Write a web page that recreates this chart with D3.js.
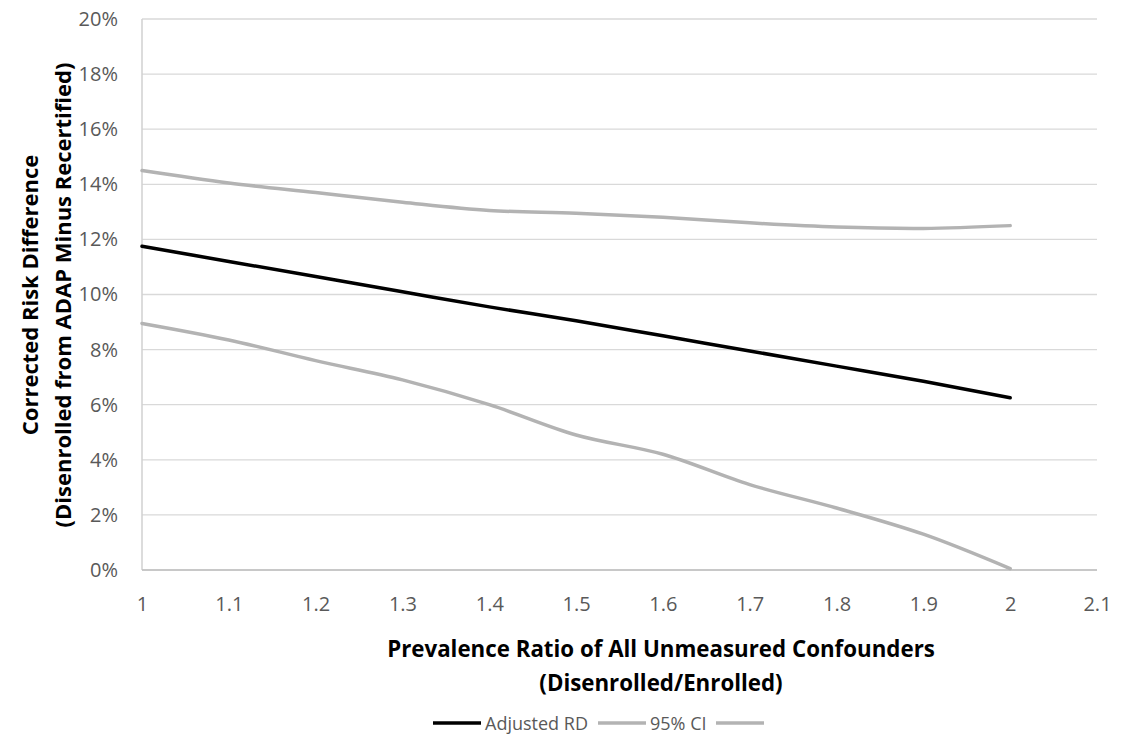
<!DOCTYPE html>
<html>
<head>
<meta charset="utf-8">
<script src="https://cdn.jsdelivr.net/npm/d3@7.9.0/dist/d3.min.js"></script>
<style>
  body { margin: 0; background: #fff; }
  text { font-family: "Open Sans", "Noto Sans", sans-serif; }
</style>
</head>
<body>
<div id="chart"></div>
<script>
// data (percent)
const ratios      = [1, 1.1, 1.2, 1.3, 1.4, 1.5, 1.6, 1.7, 1.8, 1.9, 2];
const adjustedRD  = [11.75, 11.2, 10.65, 10.1, 9.55, 9.05, 8.5, 7.95, 7.4, 6.85, 6.25];
const ciUpper     = [14.5, 14.05, 13.7, 13.35, 13.05, 12.95, 12.8, 12.6, 12.45, 12.4, 12.5];
const ciLower     = [8.95, 8.35, 7.6, 6.9, 6.0, 4.9, 4.2, 3.1, 2.25, 1.3, 0.05];
const xTicks      = [1, 1.1, 1.2, 1.3, 1.4, 1.5, 1.6, 1.7, 1.8, 1.9, 2, 2.1];
const yTicks      = [0, 2, 4, 6, 8, 10, 12, 14, 16, 18, 20];

const W = 1129, H = 736;
const margin = { top: 19, right: 32, bottom: 166, left: 142 },
      width  = W - margin.left - margin.right,
      height = H - margin.top - margin.bottom;

const svg = d3.select("#chart").append("svg")
  .attr("width", W)
  .attr("height", H);

const g = svg.append("g")
  .attr("transform", `translate(${margin.left},${margin.top})`);

const x = d3.scaleLinear().domain([1, 2.1]).range([0, width]);
const y = d3.scaleLinear().domain([0, 20]).range([height, 0]);

// gridlines
g.append("g")
  .selectAll("line")
  .data(yTicks)
  .join("line")
    .attr("x1", 0)
    .attr("x2", width)
    .attr("y1", d => y(d))
    .attr("y2", d => y(d))
    .attr("stroke", "#d9d9d9")
    .attr("stroke-width", 1.3);

// left axis line
g.append("line")
  .attr("x1", 0).attr("x2", 0)
  .attr("y1", 0).attr("y2", height)
  .attr("stroke", "#d0d0d0")
  .attr("stroke-width", 1.5);

// bottom axis line
g.append("line")
  .attr("x1", 0).attr("x2", width)
  .attr("y1", height).attr("y2", height)
  .attr("stroke", "#bfbfbf")
  .attr("stroke-width", 1.5);

// y tick labels
const yAxis = g.append("g")
  .call(d3.axisLeft(y).tickValues(yTicks).tickSize(0).tickPadding(24).tickFormat(d => d + "%"));
yAxis.select(".domain").remove();
yAxis.selectAll("text")
  .attr("fill", "#595959")
  .style("font-size", "20px");

// x tick labels
const xAxis = g.append("g")
  .attr("transform", `translate(0,${height})`)
  .call(d3.axisBottom(x).tickValues(xTicks).tickSize(0).tickPadding(27).tickFormat(d3.format("")));
xAxis.select(".domain").remove();
xAxis.selectAll("text")
  .attr("fill", "#595959")
  .style("font-size", "20px");

// lines
const line = d3.line()
  .x((d, i) => x(ratios[i]))
  .y(d => y(d))
  .curve(d3.curveCatmullRom.alpha(0.5));

const series = [
  { name: "Adjusted RD", values: adjustedRD, color: "#000000" },
  { name: "95% CI",      values: ciUpper,    color: "#b3b3b3" },
  { name: "",            values: ciLower,    color: "#b3b3b3" }
];

g.selectAll(".series")
  .data(series)
  .join("path")
    .attr("class", "series")
    .attr("d", d => line(d.values))
    .attr("fill", "none")
    .attr("stroke", d => d.color)
    .attr("stroke-width", 3.5)
    .attr("stroke-linecap", "round");

// x axis title
const xt = svg.append("text")
  .attr("text-anchor", "middle")
  .attr("fill", "#000")
  .style("font-size", "22.3px")
  .style("font-weight", "bold");
xt.append("tspan").attr("x", 661).attr("y", 657).text("Prevalence Ratio of All Unmeasured Confounders");
xt.append("tspan").attr("x", 661).attr("y", 691).text("(Disenrolled/Enrolled)");

// y axis title
const yt = svg.append("text")
  .attr("text-anchor", "middle")
  .attr("transform", "translate(0,295) rotate(-90)")
  .attr("fill", "#000")
  .style("font-size", "22px")
  .style("font-weight", "bold");
yt.append("tspan").attr("x", 0).attr("y", 38).text("Corrected Risk Difference");
yt.append("tspan").attr("x", 0).attr("y", 71).text("(Disenrolled from ADAP Minus Recertified)");

// legend
const legendX = [433, 598, 716];
const legend = svg.append("g");
const items = legend.selectAll("g")
  .data(series)
  .join("g")
    .attr("transform", (d, i) => `translate(${legendX[i]},723)`);

items.append("line")
  .attr("x1", 0).attr("x2", 48)
  .attr("y1", 0).attr("y2", 0)
  .attr("stroke", d => d.color)
  .attr("stroke-width", 3.5);

items.append("text")
  .attr("x", 52)
  .attr("y", 6.5)
  .attr("fill", "#595959")
  .style("font-size", "18px")
  .text(d => d.name);
</script>
</body>
</html>
